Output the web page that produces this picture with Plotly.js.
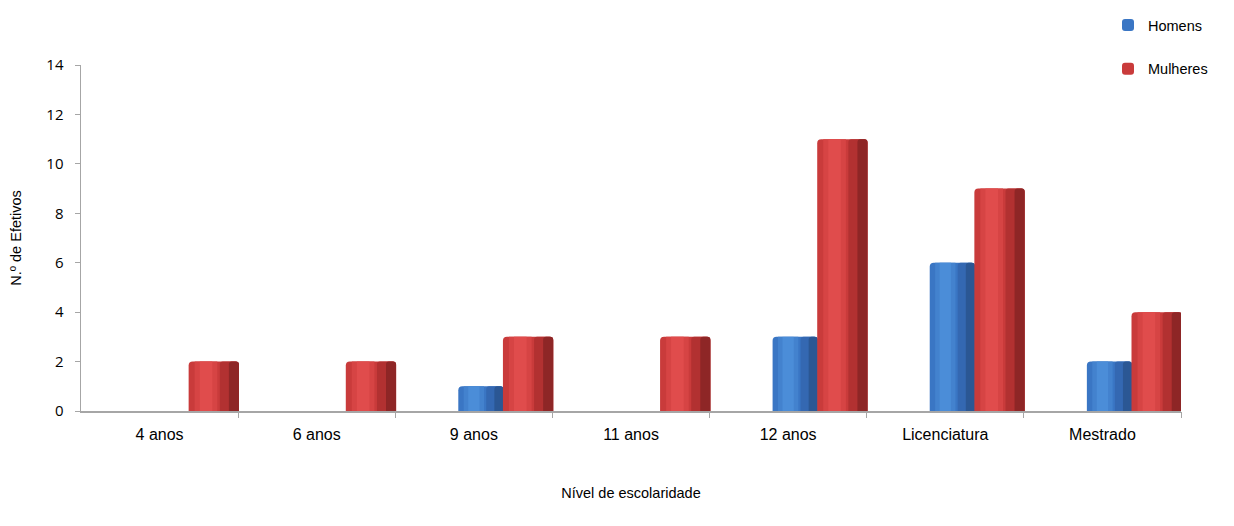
<!DOCTYPE html>
<html><head><meta charset="utf-8">
<script src="https://cdn.plot.ly/plotly-3.0.1.min.js"></script>
<style>html,body{margin:0;padding:0;background:#fff}#chart{width:1234px;height:526px}</style>
</head><body><div id="chart"></div>
<script>
const categories = ["4 anos","6 anos","9 anos","11 anos","12 anos","Licenciatura","Mestrado"];
const homens = [0,0,1,0,3,6,2];
const mulheres = [2,2,3,3,11,9,4];
const seriesNames = ["Homens","Mulheres"];

const xIdx = categories.map((c,i)=>i);

// shading bands: [start fraction, width fraction, color index, radius]
const bands = [[0.12,0.45,1,0],[0.22,0.25,2,0],[0.62,0.38,3,3],[0.8,0.2,4,3]];

function layers(vals, name, off, w, cols, group){
  const out = [{type:'bar', x:xIdx, y:vals, name:name, legendgroup:group, showlegend:true,
     offset:off, width:w, marker:{color:cols[0], cornerradius:4}, hoverinfo:'y'}];
  bands.forEach(b=>{
    out.push({type:'bar', x:xIdx, y:vals, showlegend:false, legendgroup:group,
      offset:off+w*b[0], width:w*b[1], marker:{color:cols[b[2]], cornerradius:b[3]}, hoverinfo:'skip'});
  });
  return out;
}

const data = [
  ...layers(homens, seriesNames[0], -0.099, 0.287, ['#3A76C4','#4382CE','#4B8DD8','#3468B2','#2B5794'], 'h'),
  ...layers(mulheres, seriesNames[1], 0.185, 0.32, ['#C93B3B','#D64444','#E04C4C','#B23131','#8E2626'], 'm')
];

const layout = {
  width:1234, height:526,
  margin:{l:81, r:53, t:65, b:115, autoexpand:false},
  paper_bgcolor:'#fff', plot_bgcolor:'#fff',
  barmode:'overlay',
  font:{family:'"Liberation Sans", Arial, sans-serif', color:'#000', size:14},
  xaxis:{
    tickmode:'array', tickvals:xIdx, ticktext:categories,
    range:[-0.5, 6.5], showgrid:false, zeroline:false,
    showline:true, linecolor:'#A6A6A6', linewidth:1.5,
    ticks:'', tickfont:{size:16}, ticklabelstandoff:8, fixedrange:true,
    title:{text:'Nível de escolaridade', font:{size:14.5}, standoff:46}
  },
  xaxis2:{overlaying:'x', range:[-0.5,6.5], showgrid:false, zeroline:false, visible:true,
    tickmode:'array', tickvals:[0.5,1.5,2.5,3.5,4.5,5.5,6.5], showticklabels:false,
    ticks:'outside', ticklen:6, tickcolor:'#A6A6A6', tickwidth:1, showline:false, side:'bottom', anchor:'y'},
  yaxis:{
    range:[0,14], dtick:2, showgrid:false, zeroline:false,
    showline:true, linecolor:'#A6A6A6', linewidth:1.5,
    ticks:'outside', ticklen:5, tickcolor:'#A6A6A6', ticklabelstandoff:8,
    tickfont:{size:15, family:'"Open Sans", "Liberation Sans", sans-serif'},
    title:{text:'N.º de Efetivos', font:{size:14.5}, standoff:21}
  },
  legend:{
    xref:'container', yref:'container', x:1108/1234, y:1-9/526, xanchor:'left', yanchor:'top',
    font:{size:14.5}, itemwidth:30, traceorder:'grouped', tracegroupgap:22, bgcolor:'rgba(0,0,0,0)'
  },
  showlegend:true
};

data.push({type:'scatter', x:[-0.5], y:[0], xaxis:'x2', mode:'markers', marker:{opacity:0}, showlegend:false, hoverinfo:'skip'});

Plotly.newPlot('chart', data, layout, {displayModeBar:false, staticPlot:true});
</script></body></html>
